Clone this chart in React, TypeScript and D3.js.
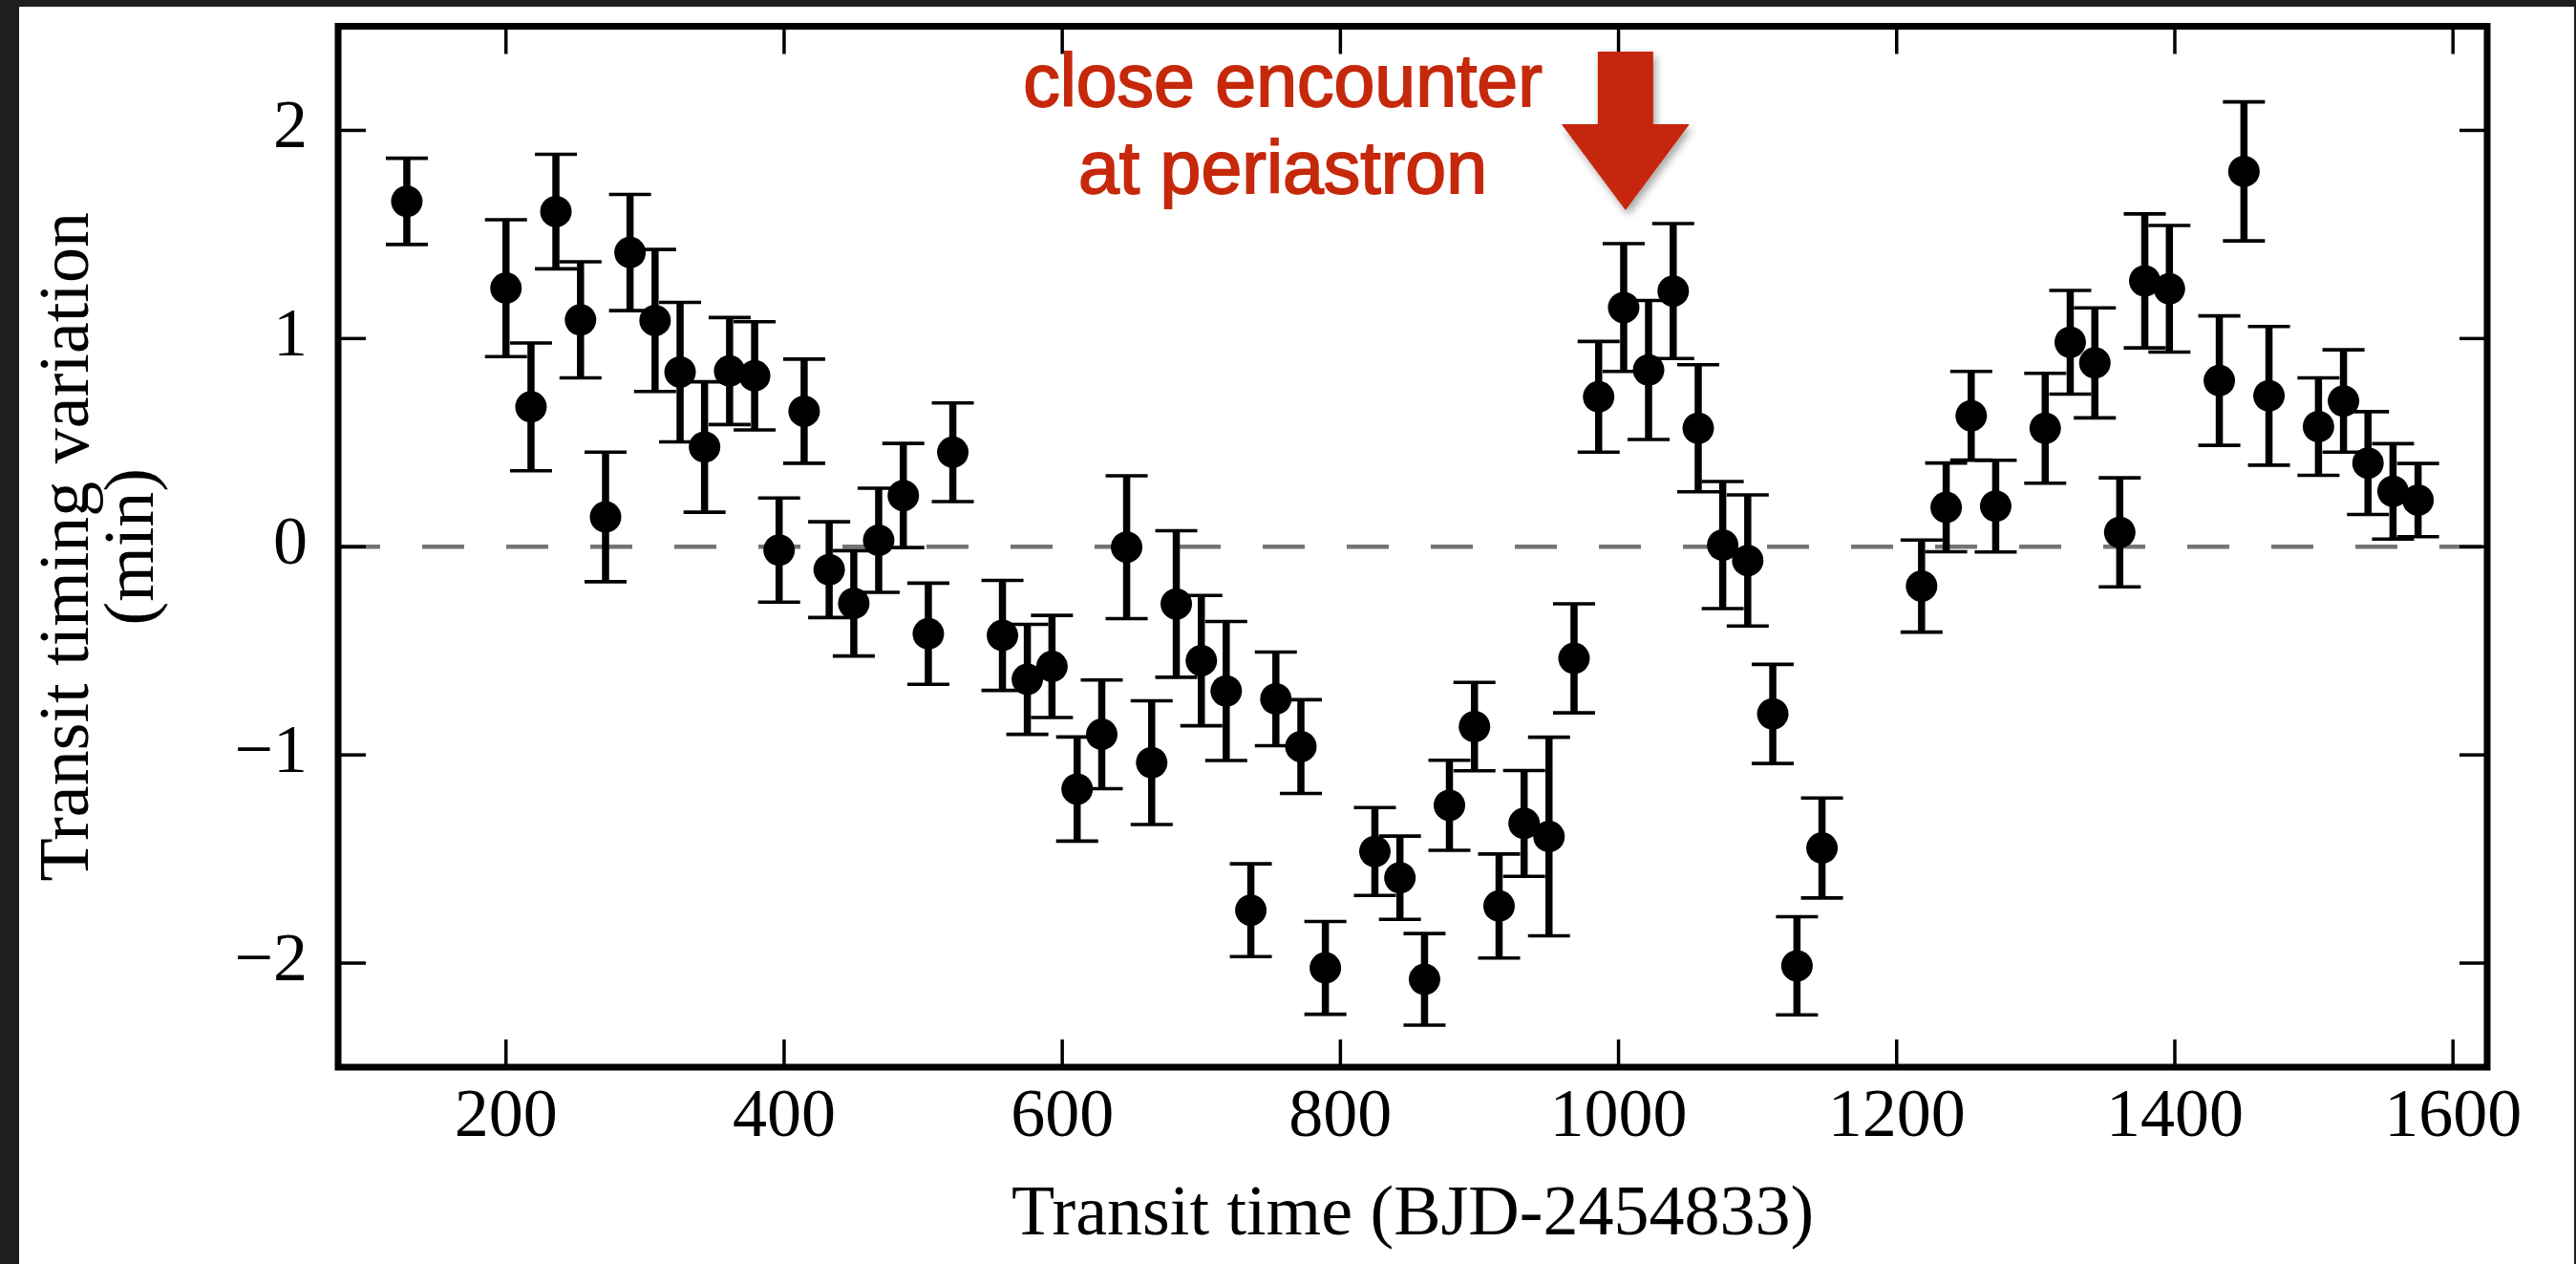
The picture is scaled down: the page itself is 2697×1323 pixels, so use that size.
import React from 'react';
import * as d3 from 'd3';

// Transit times (BJD - 2454833), timing variations (min) and 1-sigma errors (min)
const transitTime = [
  128.7, 200.0, 218.0, 235.9, 253.6, 271.6, 289.2, 307.2, 325.2, 342.8,
  360.8, 378.8, 396.4, 414.4, 432.4, 450.1, 468.0, 485.7, 503.7, 521.3,
  557.0, 574.9, 592.6, 610.7, 628.4, 646.3, 664.3, 682.0, 700.0, 717.9,
  735.6, 753.6, 771.6, 789.2, 824.8, 842.8, 860.5, 878.4, 896.4, 914.1,
  932.1, 950.0, 968.0, 985.7, 1003.7, 1021.6, 1039.3, 1057.3, 1074.9, 1092.9,
  1110.9, 1128.3, 1146.3, 1217.9, 1235.6, 1253.6, 1271.2, 1306.8, 1324.8, 1342.5,
  1360.4, 1378.4, 1396.1, 1432.0, 1449.7, 1467.7, 1503.3, 1521.3, 1538.9, 1556.9,
  1574.9,
];
const ttv = [
  1.659, 1.242, 0.672, 1.61, 1.09, 0.143, 1.413, 1.087, 0.839, 0.479,
  0.844, 0.821, -0.016, 0.651, -0.11, -0.272, 0.031, 0.246, -0.418, 0.454,
  -0.426, -0.637, -0.575, -1.164, -0.901, -0.002, -1.037, -0.275, -0.547, -0.693,
  -1.746, -0.731, -0.96, -2.023, -1.464, -1.59, -2.078, -1.242, -0.864, -1.726,
  -1.329, -1.392, -0.536, 0.72, 1.149, 0.849, 1.228, 0.569, 0.008, -0.066,
  -0.803, -2.013, -1.447, -0.189, 0.189, 0.629, 0.195, 0.569, 0.982, 0.883,
  0.069, 1.277, 1.239, 0.798, 1.803, 0.725, 0.577, 0.7, 0.402, 0.266,
  0.224,
];
const ttvErr = [
  0.207, 0.329, 0.307, 0.275, 0.279, 0.311, 0.279, 0.341, 0.335, 0.313,
  0.257, 0.26, 0.25, 0.25, 0.23, 0.253, 0.25, 0.25, 0.243, 0.237,
  0.264, 0.264, 0.245, 0.25, 0.261, 0.343, 0.297, 0.352, 0.313, 0.334,
  0.223, 0.225, 0.225, 0.223, 0.211, 0.2, 0.22, 0.216, 0.212, 0.25,
  0.254, 0.477, 0.262, 0.266, 0.307, 0.334, 0.324, 0.305, 0.305, 0.315,
  0.238, 0.236, 0.24, 0.221, 0.213, 0.213, 0.22, 0.264, 0.249, 0.264,
  0.262, 0.322, 0.304, 0.311, 0.334, 0.333, 0.234, 0.246, 0.247, 0.229,
  0.176,
];

const xTicks = [200, 400, 600, 800, 1000, 1200, 1400, 1600];
const yTicks = [-2, -1, 0, 1, 2];
const xDomain = [79.3, 1624.6];
const yDomain = [-2.5, 2.5];

const xLabel = 'Transit time (BJD-2454833)';
const yLabelLines = ['Transit timing variation', '(min)'];
const noteLines = ['close encounter', 'at periastron'];
const noteX = 1005; // transit time pointed at by the arrow

const W = 2697;
const H = 1323;
const plot = { left: 354, right: 2604, top: 27.5, bottom: 1117 };

const serif = '"Liberation Serif", "Times New Roman", Times, serif';
const sans = '"Liberation Sans", Arial, Helvetica, sans-serif';
const red = '#c6280b';

const fmt = (v: number) => (v < 0 ? '\u2212' + Math.abs(v) : String(v));

export default function App() {
  const x = d3.scaleLinear().domain(xDomain).range([plot.left, plot.right]);
  const y = d3.scaleLinear().domain(yDomain).range([plot.bottom, plot.top]);

  const points = transitTime.map((t, i) => ({ t, v: ttv[i], e: ttvErr[i] }));
  const tickLen = 29;
  const capHalf = 22;

  const ax = x(noteX);
  const arrowTop = 54;
  const headTop = 130;
  const tip = 220;
  const shaftHalf = 29;
  const headHalf = 67;
  const arrowPath = d3.path();
  arrowPath.moveTo(ax - shaftHalf, arrowTop);
  arrowPath.lineTo(ax + shaftHalf, arrowTop);
  arrowPath.lineTo(ax + shaftHalf, headTop);
  arrowPath.lineTo(ax + headHalf, headTop);
  arrowPath.lineTo(ax, tip);
  arrowPath.lineTo(ax - headHalf, headTop);
  arrowPath.lineTo(ax - shaftHalf, headTop);
  arrowPath.closePath();

  return (
    <svg
      width={W}
      height={H}
      viewBox={`0 0 ${W} ${H}`}
      style={{ position: 'absolute', left: 0, top: 0, display: 'block' }}
    >
      <defs>
        <filter id="arrowShadow" x="-30%" y="-20%" width="160%" height="160%">
          <feDropShadow dx="3" dy="5" stdDeviation="4" floodColor="#000" floodOpacity="0.35" />
        </filter>
        <clipPath id="plotClip">
          <rect x={plot.left} y={plot.top} width={plot.right - plot.left} height={plot.bottom - plot.top} />
        </clipPath>
      </defs>

      {/* page frame */}
      <rect x={0} y={0} width={W} height={H} fill="#ffffff" />
      <rect x={0} y={0} width={W} height={7} fill="#1e1e1e" />
      <rect x={0} y={0} width={20} height={H} fill="#1e1e1e" />
      <rect x={W - 2} y={0} width={2} height={H} fill="#1e1e1e" />

      {/* zero line */}
      <line
        x1={plot.left}
        x2={plot.right}
        y1={y(0)}
        y2={y(0)}
        stroke="#747474"
        strokeWidth={4.3}
        strokeDasharray="44 44"
        clipPath="url(#plotClip)"
      />

      {/* error bars and points */}
      <g clipPath="url(#plotClip)">
        {points.map((p, i) => {
          const cx = x(p.t);
          const y1 = y(p.v + p.e);
          const y2 = y(p.v - p.e);
          return (
            <g key={i}>
              <line x1={cx} x2={cx} y1={y1} y2={y2} stroke="#000" strokeWidth={7.5} />
              <line x1={cx - capHalf} x2={cx + capHalf} y1={y1} y2={y1} stroke="#000" strokeWidth={3.6} />
              <line x1={cx - capHalf} x2={cx + capHalf} y1={y2} y2={y2} stroke="#000" strokeWidth={3.6} />
              <circle cx={cx} cy={y(p.v)} r={16.5} fill="#000" />
            </g>
          );
        })}
      </g>

      {/* ticks on all four sides, pointing inward */}
      <g stroke="#000" strokeWidth={3.5}>
        {xTicks.map((t) => (
          <g key={'xt' + t}>
            <line x1={x(t)} x2={x(t)} y1={plot.bottom} y2={plot.bottom - tickLen} />
            <line x1={x(t)} x2={x(t)} y1={plot.top} y2={plot.top + tickLen} />
          </g>
        ))}
        {yTicks.map((t) => (
          <g key={'yt' + t}>
            <line x1={plot.left} x2={plot.left + tickLen} y1={y(t)} y2={y(t)} />
            <line x1={plot.right} x2={plot.right - tickLen} y1={y(t)} y2={y(t)} />
          </g>
        ))}
      </g>

      {/* axes frame */}
      <rect
        x={plot.left}
        y={plot.top}
        width={plot.right - plot.left}
        height={plot.bottom - plot.top}
        fill="none"
        stroke="#000"
        strokeWidth={7}
      />

      {/* tick labels */}
      <g fontFamily={serif} fontSize={72} fill="#000">
        {xTicks.map((t) => (
          <text key={'xl' + t} x={x(t)} y={1189} textAnchor="middle">
            {fmt(t)}
          </text>
        ))}
        {yTicks.map((t) => (
          <text key={'yl' + t} x={322} y={y(t) + 18} textAnchor="end">
            {fmt(t)}
          </text>
        ))}
      </g>

      {/* axis labels */}
      <text x={(plot.left + plot.right) / 2} y={1292} textAnchor="middle" fontFamily={serif} fontSize={74} fill="#000">
        {xLabel}
      </text>
      <g fontFamily={serif} fontSize={74} fill="#000" textAnchor="middle">
        {yLabelLines.map((s, i) => (
          <text key={s} transform={`translate(${92 + i * 68},${y(0)}) rotate(-90)`}>
            {s}
          </text>
        ))}
      </g>

      {/* annotation */}
      <g fontFamily={sans} fontSize={77} fill={red} stroke={red} strokeWidth={1.8} textAnchor="middle">
        <text x={1343} y={111}>{noteLines[0]}</text>
        <text x={1343} y={202}>{noteLines[1]}</text>
      </g>
      <path d={arrowPath.toString()} fill={red} filter="url(#arrowShadow)" />
    </svg>
  );
}
